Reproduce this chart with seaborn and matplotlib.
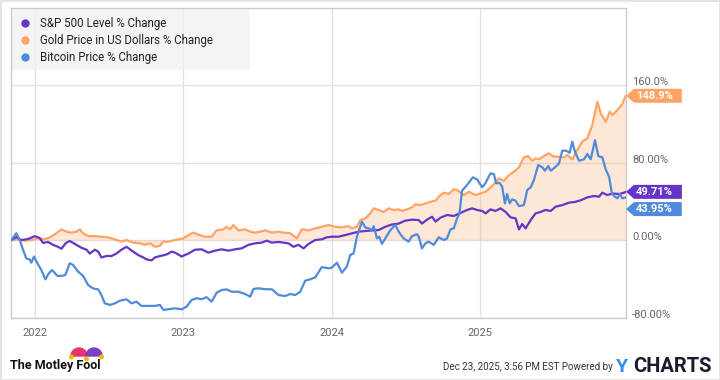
import matplotlib
matplotlib.use("Agg")
import matplotlib.pyplot as plt
import seaborn as sns
from matplotlib.path import Path
from matplotlib.lines import Line2D
from matplotlib.patches import Rectangle, Wedge, Circle
from matplotlib.transforms import IdentityTransform

# Data (decimal years, % change since start)
sp_years = [2021.840, 2021.874, 2021.907, 2021.953, 2021.998, 2022.032, 2022.054, 2022.088,
            2022.122, 2022.155, 2022.178, 2022.209, 2022.234, 2022.257, 2022.279, 2022.313,
            2022.347, 2022.370, 2022.403, 2022.426, 2022.448, 2022.482, 2022.516, 2022.549,
            2022.583, 2022.617, 2022.640, 2022.662, 2022.696, 2022.730, 2022.752, 2022.786,
            2022.809, 2022.843, 2022.876, 2022.899, 2022.921, 2022.944, 2022.989, 2023.034,
            2023.079, 2023.124, 2023.169, 2023.214, 2023.259, 2023.304, 2023.349, 2023.394,
            2023.439, 2023.484, 2023.529, 2023.563, 2023.597, 2023.642, 2023.676, 2023.709,
            2023.743, 2023.777, 2023.811, 2023.845, 2023.890, 2023.934, 2023.968, 2024.002,
            2024.047, 2024.115, 2024.182, 2024.250, 2024.318, 2024.363, 2024.407, 2024.453,
            2024.498, 2024.543, 2024.588, 2024.610, 2024.644, 2024.678, 2024.701, 2024.734,
            2024.779, 2024.824, 2024.870, 2024.914, 2024.948, 2024.982, 2025.016, 2025.039,
            2025.072, 2025.106, 2025.140, 2025.174, 2025.207, 2025.241, 2025.264, 2025.286,
            2025.309, 2025.343, 2025.376, 2025.410, 2025.444, 2025.478, 2025.511, 2025.556,
            2025.601, 2025.647, 2025.680, 2025.725, 2025.770, 2025.804, 2025.826, 2025.860,
            2025.894, 2025.939, 2025.973, 2025.984]
sp_values = [0, 3, 0, 1, 4, 2, -3, -2,
             -5, -7, -9, -3, -1, -3, -5, -8,
             -10, -14, -10, -12, -18, -16.5, -16.5, -14,
             -10, -7, -9.6, -12, -15.5, -18, -20, -21,
             -18, -16.5, -15.5, -14, -12, -13, -17, -14,
             -10, -9.6, -13, -11, -9.6, -11, -9.6, -8.6,
             -5, -3.4, -2.7, -0.7, -2.7, -2, -2.7, -3.4,
             -7, -5, -8.6, -4, 0, 0.7, 2.8, 3.4,
             3.4, 6, 8.6, 9.6, 10.3, 13.7, 16, 17,
             20, 21, 20.6, 17, 21, 24, 19, 23,
             25.8, 24.8, 28, 31, 32.7, 31, 30, 27.5,
             31.6, 30, 32.7, 29, 23.4, 22.4, 11, 16.5,
             12, 20.6, 27.5, 29, 31, 30, 34.4, 36,
             38.5, 39.5, 41, 44, 45.4, 44.7, 48.8, 46.4,
             48, 47.5, 48.8, 49.71]

gold_years = [2021.840, 2021.885, 2021.930, 2021.975, 2022.020, 2022.066, 2022.110, 2022.144,
              2022.178, 2022.211, 2022.245, 2022.279, 2022.302, 2022.324, 2022.358, 2022.403,
              2022.448, 2022.493, 2022.539, 2022.583, 2022.617, 2022.662, 2022.707, 2022.741,
              2022.775, 2022.809, 2022.843, 2022.865, 2022.899, 2022.944, 2023.000, 2023.034,
              2023.068, 2023.113, 2023.147, 2023.191, 2023.225, 2023.270, 2023.293, 2023.316,
              2023.338, 2023.372, 2023.417, 2023.451, 2023.484, 2023.518, 2023.552, 2023.597,
              2023.642, 2023.676, 2023.721, 2023.766, 2023.799, 2023.845, 2023.890, 2023.934,
              2023.980, 2024.025, 2024.070, 2024.115, 2024.137, 2024.171, 2024.194, 2024.228,
              2024.261, 2024.284, 2024.318, 2024.351, 2024.385, 2024.419, 2024.453, 2024.475,
              2024.509, 2024.543, 2024.566, 2024.599, 2024.633, 2024.667, 2024.701, 2024.734,
              2024.757, 2024.791, 2024.824, 2024.847, 2024.870, 2024.892, 2024.926, 2024.971,
              2025.016, 2025.039, 2025.083, 2025.128, 2025.162, 2025.196, 2025.230, 2025.264,
              2025.297, 2025.326, 2025.353, 2025.376, 2025.399, 2025.432, 2025.466, 2025.500,
              2025.534, 2025.568, 2025.590, 2025.624, 2025.657, 2025.691, 2025.725, 2025.759,
              2025.793, 2025.816, 2025.849, 2025.876, 2025.894, 2025.928, 2025.961, 2025.984]
gold_values = [0, 0.7, -0.7, 0, 1.7, 0.7, 3.4, 7,
               11, 8.6, 7.6, 8.6, 11, 7, 4, 4,
               3.4, 2.7, 0.7, -1.7, 0, -2.7, -3.4, -5,
               -3.4, -7, -6, -1.7, -1.7, 0, 1.7, 5,
               7.6, 5, 3.4, 3.4, 10, 11, 13.7, 11,
               15.5, 10, 11, 8.6, 7.6, 8.6, 10, 7.6,
               8.6, 7.6, 7, 1.7, 11, 10, 12, 13.7,
               15.5, 13.7, 13, 14.4, 12, 13.7, 20.6, 22.4,
               27.5, 32.7, 31, 29, 32.7, 31, 31.6, 30,
               31.6, 33.7, 37, 36, 37.8, 39.5, 40.6, 46.4,
               48.8, 47.5, 52.3, 51.6, 48.8, 46.4, 49.8, 46.4,
               48.8, 49.8, 55.7, 63.6, 61.2, 67, 70.5, 75,
               85.3, 86.7, 81.8, 84.3, 83.3, 86.7, 89.5, 86,
               86, 85.3, 87.7, 83.3, 92.9, 101.5, 105, 118.7,
               142.7, 130.7, 122, 132.4, 129, 134.2, 140.4, 148.9]

btc_years = [2021.840, 2021.874, 2021.897, 2021.919, 2021.941, 2021.964, 2021.975, 2021.993,
             2022.016, 2022.043, 2022.070, 2022.093, 2022.115, 2022.151, 2022.182, 2022.205,
             2022.234, 2022.257, 2022.291, 2022.324, 2022.358, 2022.392, 2022.426, 2022.448,
             2022.471, 2022.505, 2022.539, 2022.572, 2022.617, 2022.651, 2022.684, 2022.718,
             2022.764, 2022.809, 2022.843, 2022.865, 2022.899, 2022.944, 2022.989, 2023.022,
             2023.056, 2023.090, 2023.124, 2023.157, 2023.191, 2023.225, 2023.259, 2023.293,
             2023.326, 2023.372, 2023.417, 2023.451, 2023.473, 2023.507, 2023.552, 2023.597,
             2023.642, 2023.687, 2023.721, 2023.755, 2023.789, 2023.822, 2023.856, 2023.890,
             2023.934, 2023.980, 2024.002, 2024.036, 2024.070, 2024.103, 2024.126, 2024.149,
             2024.171, 2024.205, 2024.228, 2024.250, 2024.272, 2024.284, 2024.306, 2024.322,
             2024.340, 2024.363, 2024.397, 2024.430, 2024.453, 2024.486, 2024.520, 2024.543,
             2024.576, 2024.588, 2024.610, 2024.633, 2024.655, 2024.689, 2024.723, 2024.757,
             2024.779, 2024.802, 2024.824, 2024.847, 2024.863, 2024.880, 2024.914, 2024.953,
             2024.982, 2025.016, 2025.039, 2025.072, 2025.095, 2025.110, 2025.133, 2025.151,
             2025.169, 2025.184, 2025.201, 2025.218, 2025.241, 2025.264, 2025.297, 2025.320,
             2025.343, 2025.365, 2025.394, 2025.422, 2025.439, 2025.462, 2025.478, 2025.507,
             2025.534, 2025.556, 2025.583, 2025.606, 2025.624, 2025.642, 2025.669, 2025.703,
             2025.725, 2025.748, 2025.777, 2025.799, 2025.826, 2025.849, 2025.872, 2025.890,
             2025.905, 2025.928, 2025.944, 2025.961, 2025.984]
btc_values = [0, 7, 0, -10, -19, -20, -23.4, -17,
              -24, -31, -40.6, -34.4, -31, -37, -37, -36,
              -24, -25.8, -32.7, -37, -46.4, -50, -51, -56.8,
              -65.4, -67, -65.4, -62.6, -61.2, -65.4, -63.6, -68,
              -68, -68, -67, -72, -71.5, -70.5, -71.5, -68.8,
              -62, -60, -61.2, -59, -63.6, -54.4, -51.6, -51,
              -53.4, -53.4, -55.7, -58.5, -50.6, -49.8, -50.8, -50.8,
              -56.8, -57.8, -55.7, -56.8, -53.4, -42, -40.6, -38.5,
              -28, -29.2, -28.5, -23.4, -33.7, -27.5, -15.5, -13.7,
              3.4, 19, 13, 12, 10.3, 14.4, 1.7, 3.4,
              -4, 1.7, 10.3, 15.5, 8.6, 1.7, -1.7, 4,
              6, 3.4, -8.6, -3.4, -1.7, -5, 2.8, 0,
              1.7, 11, 12, 22.4, 27.5, 50.9, 56.8, 64.7,
              62.6, 54.4, 59, 68.8, 68, 58.5, 59, 55,
              37.8, 47.5, 37.8, 42, 40.6, 35, 36, 51.6,
              54.4, 62, 77.4, 75, 71.5, 76.4, 71.5, 75,
              79, 92.2, 92.2, 90, 101.5, 91.1, 81.8, 83.3,
              88.8, 83.3, 103.2, 86.7, 85.3, 72.9, 65.3, 48.8,
              45.4, 43, 47.5, 43, 43.95]

series_names = ["S&P 500 Level % Change", "Gold Price in US Dollars % Change",
                "Bitcoin Price % Change"]
year_ticks = [2022, 2023, 2024, 2025]
pct_ticks = [-80, 0, 80, 160]
pct_labels = ["-80.00%", "0.00%", "80.00%", "160.0%"]
end_labels = ["49.71%", "148.9%", "43.95%"]

PURPLE = "#6534c8"
GOLD = "#ffa366"
BLUE = "#4f8bd9"
colors = [PURPLE, GOLD, BLUE]

sns.set_style("white")
plt.rcParams["font.family"] = ["Roboto", "DejaVu Sans"]

fig = plt.figure(figsize=(7.2, 3.8), dpi=100)
ax = fig.add_axes([11 / 720, 62 / 380, 615 / 720, 310 / 380])

# gold area + lines
ax.fill_between(gold_years, gold_values, 0, color=GOLD, alpha=0.25, lw=0, zorder=1)
sns.lineplot(x=gold_years, y=gold_values, color=GOLD, lw=1.6, ax=ax, zorder=3)
sns.lineplot(x=sp_years, y=sp_values, color=PURPLE, lw=1.6, ax=ax, zorder=4)
sns.lineplot(x=btc_years, y=btc_values, color=BLUE, lw=1.6, ax=ax, zorder=5)

ax.set_xlim(2021.838, 2025.986)
ax.set_ylim(-80.5, 239.5)
ax.set_xticks(year_ticks)
ax.set_xticklabels([str(y) for y in year_ticks])
ax.set_yticks(pct_ticks)
ax.set_yticklabels(pct_labels)
ax.yaxis.tick_right()
ax.tick_params(axis="both", length=0, labelsize=8, colors="#666666")
ax.tick_params(axis="x", pad=7)
ax.tick_params(axis="y", pad=4.5)
for lbl in ax.get_yticklabels():
    lbl.set_va("baseline")
ax.grid(True, color="#e2e2e2", lw=1)
ax.set_axisbelow(True)
for side in ["left", "right", "top", "bottom"]:
    ax.spines[side].set_color("#cccccc")
    ax.spines[side].set_linewidth(1)
ax.set_xlabel("")
ax.set_ylabel("")

# legend (fixed-size grey panel in the top-left corner)
ax.add_patch(Rectangle((0, 0.8), 0.3886, 0.2, transform=ax.transAxes, fc="#f2f2f2",
                       ec="none", alpha=0.8, zorder=2))
handles = [Line2D([], [], marker="o", ls="", color=c, markersize=5) for c in colors]
leg = ax.legend(handles, series_names, loc="upper left", bbox_to_anchor=(0, 1),
                borderaxespad=0, frameon=False, fontsize=8.3, handlelength=0.9,
                handletextpad=0.85, labelspacing=0.33, borderpad=0.78)
for t in leg.get_texts():
    t.set_color("#222222")


# end-value tags
def tag_box(x0, y0, width, height, mutation_size):
    p = 0.18 * mutation_size
    tip = 0.72 * mutation_size
    right = 0.8 * mutation_size
    l, r = x0 - p, x0 + width + right
    b, t = y0 - p, y0 + height + p
    return Path([(l, b), (r, b), (r, t), (l, t), (l - tip, (b + t) / 2), (l, b)], closed=True)


last_values = [sp_values[-1], gold_values[-1], btc_values[-1]]
shifts = [0, 0, -8.4]
for val, lab, c, dy in zip(last_values, end_labels, colors, shifts):
    ax.annotate(lab, xy=(1, val), xycoords=("axes fraction", "data"),
                xytext=(7.2, dy), textcoords="offset points", ha="left", va="center",
                color="white", fontweight="bold", fontsize=8, annotation_clip=False,
                bbox=dict(boxstyle=tag_box, fc=c, ec="none"))

# footer
fig.text(10 / 720, 1 - 366 / 380, "The Motley Fool", ha="left", va="center",
         fontsize=9, fontweight="bold", color="#111111")
px = IdentityTransform()
fig.add_artist(Wedge((79, 24), 8, 0, 180, color="#e8336f", transform=px))
fig.add_artist(Wedge((94, 24), 8, 0, 180, color="#7b3fc4", transform=px))
for cx, cy in [(71.5, 23), (86.5, 21), (101.5, 23)]:
    fig.add_artist(Circle((cx, cy), 1.8, color="#f5b800", transform=px))
fig.text(613 / 720, 1 - 367 / 380, "Dec 23, 2025, 3:56 PM EST Powered by", ha="right",
         va="center", fontsize=7.0, color="#333333")
fig.text(616 / 720, 1 - 367 / 380, "Y", ha="left", va="center", fontsize=14,
         fontweight="bold", color="#2f8ff0")
fig.text(633 / 720, 1 - 367 / 380, "CHARTS", ha="left", va="center", fontsize=14.5,
         fontweight="bold", color="#1b1b2f")

fig.patches.append(Rectangle((0, 0), 1, 1, transform=fig.transFigure, fill=False,
                             ec="#e3e3e3", lw=2))

fig.savefig("out.png", dpi=100)
